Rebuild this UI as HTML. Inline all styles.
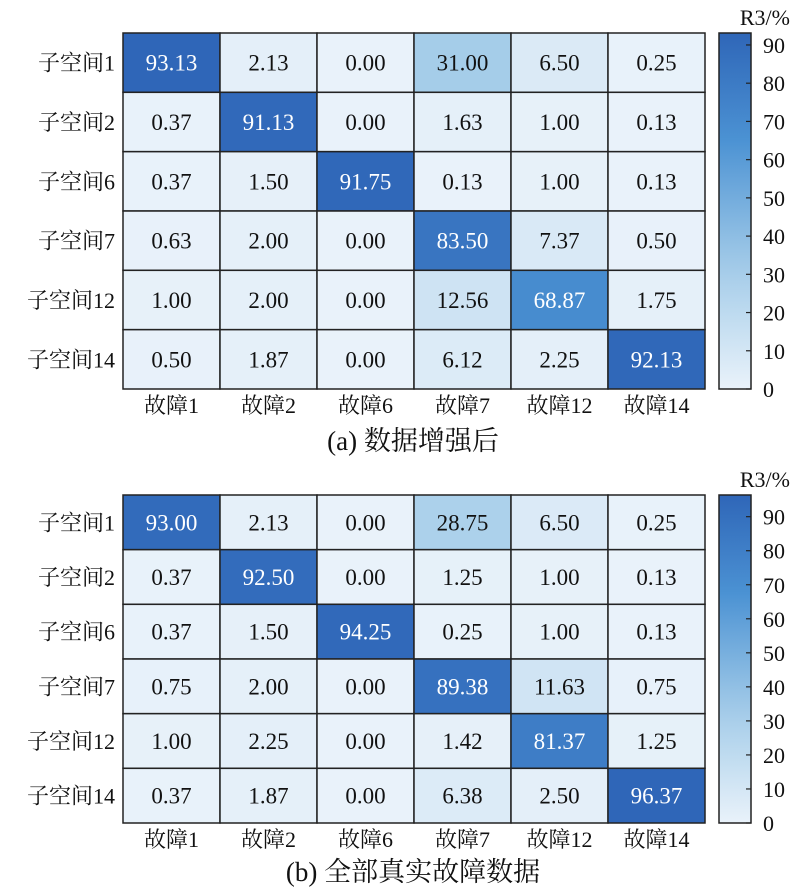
<!DOCTYPE html>
<html><head><meta charset="utf-8"><style>
body{margin:0;background:#fff;}
svg text{font-family:"Liberation Serif","Noto Serif CJK SC","Noto Sans CJK SC",serif;fill:#111;}
</style></head><body>
<svg id="chart" width="800" height="890"></svg>
<script>
const rowLabels=["子空间1","子空间2","子空间6","子空间7","子空间12","子空间14"];
const colLabels=["故障1","故障2","故障6","故障7","故障12","故障14"];
const valuesA=[
[93.13,2.13,0.00,31.00,6.50,0.25],
[0.37,91.13,0.00,1.63,1.00,0.13],
[0.37,1.50,91.75,0.13,1.00,0.13],
[0.63,2.00,0.00,83.50,7.37,0.50],
[1.00,2.00,0.00,12.56,68.87,1.75],
[0.50,1.87,0.00,6.12,2.25,92.13]];
const valuesB=[
[93.00,2.13,0.00,28.75,6.50,0.25],
[0.37,92.50,0.00,1.25,1.00,0.13],
[0.37,1.50,94.25,0.25,1.00,0.13],
[0.75,2.00,0.00,89.38,11.63,0.75],
[1.00,2.25,0.00,1.42,81.37,1.25],
[0.37,1.87,0.00,6.38,2.50,96.37]];
const cbTicks=[0,10,20,30,40,50,60,70,80,90];
const captions=["(a) 数据增强后","(b) 全部真实故障数据"];

const NS="http://www.w3.org/2000/svg";
const svg=document.getElementById('chart');
function mk(tag,attrs,parent){const e=document.createElementNS(NS,tag);for(const k in attrs)e.setAttribute(k,attrs[k]);(parent||svg).appendChild(e);return e;}
const stops=[[0,[233,242,250]],[0.33,[166,205,233]],[0.7,[75,146,211]],[1,[47,102,184]]];
function color(t){t=Math.max(0,Math.min(1,t));for(let i=1;i<stops.length;i++){if(t<=stops[i][0]){const a=stops[i-1],b=stops[i];const f=(t-a[0])/(b[0]-a[0]);const c=a[1].map((v,j)=>Math.round(v+(b[1][j]-v)*f));return `rgb(${c[0]},${c[1]},${c[2]})`;}}return 'rgb(47,102,184)';}
const defs=mk('defs',{});
function panel(vals,top,bottom,caption,capY,id){
  const left=123,right=705;
  const vmax=Math.max(...vals.flat());
  const cw=(right-left)/colLabels.length, rh=(bottom-top)/rowLabels.length;
  const g=mk('g',{});
  
  
  vals.forEach((row,i)=>row.forEach((v,j)=>{
    const x=left+j*cw,y=top+i*rh;
    const r=mk('rect',{x:x,y:y,width:cw,height:rh,fill:color(v/vmax),stroke:'#222','stroke-width':1.5},g);
    
    
    const t=mk('text',{x:x+cw/2,y:y+rh/2+8,'text-anchor':'middle','font-size':23},g);
    
    
    t.style.fill=v/vmax>0.55?'#fff':'#111';
    t.textContent=v.toFixed(2);
  }));
  rowLabels.forEach((l,i)=>{const t=mk('text',{x:left-8,y:top+i*rh+rh/2+8,'text-anchor':'end','font-size':22},g);
    t.textContent=l;});
  colLabels.forEach((l,j)=>{const t=mk('text',{x:left+j*cw+cw/2,y:bottom+24,'text-anchor':'middle','font-size':22},g);
    t.textContent=l;});
  // colorbar
  const gr=mk('linearGradient',{id:'grad'+id,x1:0,y1:1,x2:0,y2:0},defs);
  for(let k=0;k<=10;k++)mk('stop',{offset:k/10,'stop-color':color(k/10)},gr);
  const cbx=719,cbw=32;
  const cb=mk('rect',{x:cbx,y:top,width:cbw,height:bottom-top,fill:'url(#grad'+id+')',stroke:'#222','stroke-width':1.5},g);
  
  const sy=v=>bottom-(v/vmax)*(bottom-top);
  cbTicks.forEach(v=>{const y=sy(v);
    mk('line',{x1:cbx+cbw-5,x2:cbx+cbw,y1:y,y2:y,stroke:'#222','stroke-width':1.2},g);
    const t=mk('text',{x:cbx+cbw+12,y:y+8,'font-size':22},g);
    t.textContent=v;});
  const u=mk('text',{x:790,y:top-8,'text-anchor':'end','font-size':22},g);
  u.textContent='R3/%';
  const c=mk('text',{x:413,y:capY,'text-anchor':'middle','font-size':27},g);
  c.textContent=caption;
}
panel(valuesA,33,389,captions[0],450,'a');
panel(valuesB,495,823,captions[1],881,'b');
</script>
</body></html>
